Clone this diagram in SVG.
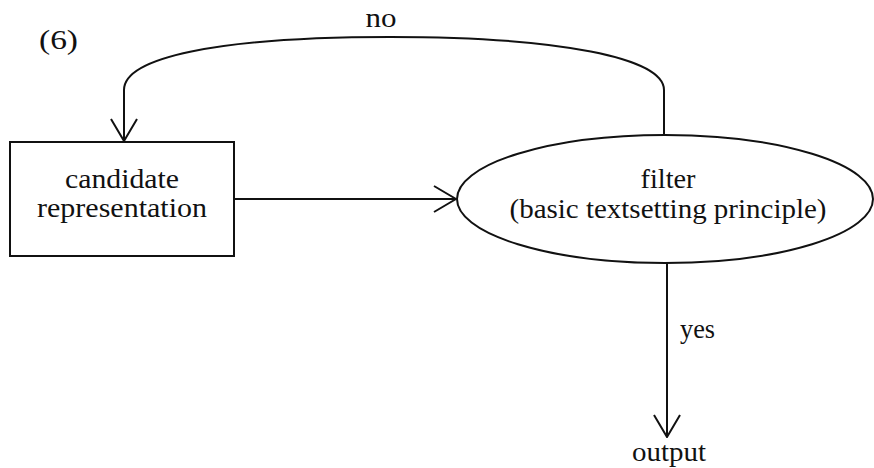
<svg xmlns="http://www.w3.org/2000/svg" width="874" height="468" viewBox="0 0 874 468">
  <style>
    .line { fill: none; stroke: #111; stroke-width: 2; }
    .node { fill: #fff; stroke: #111; stroke-width: 2; }
    text { font-family: "Liberation Serif", "Times New Roman", serif; font-size: 27px; fill: #111; }
    .mid { text-anchor: middle; }
  </style>
  <defs>
    <marker id="vee" viewBox="0 0 24 28" refX="23" refY="14" markerWidth="24" markerHeight="28" markerUnits="userSpaceOnUse" orient="auto">
      <path d="M1,1 L23,14 L1,27" fill="none" stroke="#111" stroke-width="2"/>
    </marker>
  </defs>

  <text x="39" y="49" textLength="39" lengthAdjust="spacingAndGlyphs">(6)</text>

  <g id="candidate">
    <rect class="node" x="10" y="142" width="224" height="114"/>
    <text class="mid" x="122" y="188" textLength="114" lengthAdjust="spacingAndGlyphs">candidate</text>
    <text class="mid" x="122" y="217" textLength="170" lengthAdjust="spacingAndGlyphs">representation</text>
  </g>

  <g id="filter">
    <ellipse class="node" cx="665" cy="199" rx="208" ry="64"/>
    <text class="mid" x="668" y="188" textLength="55" lengthAdjust="spacingAndGlyphs">filter</text>
    <text class="mid" x="668" y="218" textLength="317" lengthAdjust="spacingAndGlyphs">(basic textsetting principle)</text>
  </g>

  <g id="output">
    <text class="mid" x="669" y="461" textLength="74" lengthAdjust="spacingAndGlyphs">output</text>
  </g>

  <g id="connectors">
    <path class="line" d="M664,135 L664,90 C664,58 560,37 390,37 C215,37 124,58 124,90 L124,141" marker-end="url(#vee)"/>
    <path class="line" d="M234,199 L456,199" marker-end="url(#vee)"/>
    <path class="line" d="M667,263 L667,437" marker-end="url(#vee)"/>
    <text class="mid" x="381" y="27" textLength="31" lengthAdjust="spacingAndGlyphs">no</text>
    <text x="680" y="338" textLength="35" lengthAdjust="spacingAndGlyphs">yes</text>
  </g>
</svg>
